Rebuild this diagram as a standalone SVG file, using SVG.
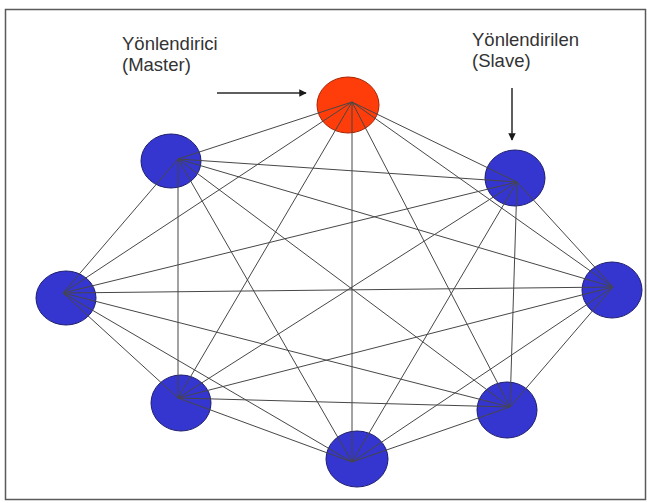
<svg xmlns="http://www.w3.org/2000/svg" width="647" height="503" viewBox="0 0 647 503">
  <style>
    .frame { fill: #ffffff; stroke: #5a5a5a; stroke-width: 1.5; }
    .slave { fill: #3535cf; stroke: #1e1e70; stroke-width: 1; }
    .master { fill: #ff3d0a; stroke: #a82300; stroke-width: 1; }
    .link { stroke: #474747; stroke-width: 1; fill: none; }
    .label { font-family: "Liberation Sans", Arial, sans-serif; font-size: 18.5px; fill: #333333; }
    .pointer { stroke: #2a2a2a; stroke-width: 1.5; fill: none; marker-end: url(#tip); }
  </style>
  <defs>
    <marker id="tip" viewBox="0 0 10 10" refX="9" refY="5" markerWidth="5" markerHeight="5" orient="auto" markerUnits="strokeWidth">
      <path d="M0,0 L10,5 L0,10 z" fill="#1a1a1a"/>
    </marker>
  </defs>

  <rect class="frame" x="5.5" y="9.5" width="640" height="490"/>

  <!-- nodes -->
  <g id="node-master"><ellipse class="master" cx="348" cy="105" rx="31" ry="28"/></g>
  <g id="node-top-left"><ellipse class="slave" cx="171" cy="161" rx="30" ry="27"/></g>
  <g id="node-top-right"><ellipse class="slave" cx="515" cy="178" rx="30" ry="28"/></g>
  <g id="node-left"><ellipse class="slave" cx="66" cy="298" rx="30" ry="27"/></g>
  <g id="node-right"><ellipse class="slave" cx="612" cy="290" rx="30" ry="28"/></g>
  <g id="node-bottom-left"><ellipse class="slave" cx="181" cy="403" rx="30" ry="28"/></g>
  <g id="node-bottom"><ellipse class="slave" cx="357" cy="459" rx="31" ry="28"/></g>
  <g id="node-bottom-right"><ellipse class="slave" cx="507" cy="410" rx="30" ry="28"/></g>

  <!-- full mesh: every hub joined to every other hub -->
  <g id="connectors" class="link">
    <!-- master -->
    <line x1="352" y1="102" x2="178" y2="159"/>
    <line x1="352" y1="102" x2="517" y2="182"/>
    <line x1="352" y1="102" x2="63" y2="293"/>
    <line x1="352" y1="102" x2="613" y2="287"/>
    <line x1="352" y1="102" x2="178" y2="398"/>
    <line x1="352" y1="102" x2="352" y2="462"/>
    <line x1="352" y1="102" x2="510" y2="407"/>
    <!-- top left -->
    <line x1="178" y1="159" x2="517" y2="182"/>
    <line x1="178" y1="159" x2="63" y2="293"/>
    <line x1="178" y1="159" x2="613" y2="287"/>
    <line x1="178" y1="159" x2="178" y2="398"/>
    <line x1="178" y1="159" x2="352" y2="462"/>
    <line x1="178" y1="159" x2="510" y2="407"/>
    <!-- top right -->
    <line x1="517" y1="182" x2="63" y2="293"/>
    <line x1="517" y1="182" x2="613" y2="287"/>
    <line x1="517" y1="182" x2="178" y2="398"/>
    <line x1="517" y1="182" x2="352" y2="462"/>
    <line x1="517" y1="182" x2="510" y2="407"/>
    <!-- left -->
    <line x1="63" y1="293" x2="613" y2="287"/>
    <line x1="63" y1="293" x2="178" y2="398"/>
    <line x1="63" y1="293" x2="352" y2="462"/>
    <line x1="63" y1="293" x2="510" y2="407"/>
    <!-- right -->
    <line x1="613" y1="287" x2="178" y2="398"/>
    <line x1="613" y1="287" x2="352" y2="462"/>
    <line x1="613" y1="287" x2="510" y2="407"/>
    <!-- bottom left -->
    <line x1="178" y1="398" x2="352" y2="462"/>
    <line x1="178" y1="398" x2="510" y2="407"/>
    <!-- bottom -->
    <line x1="352" y1="462" x2="510" y2="407"/>
  </g>

  <!-- labels and pointers -->
  <g id="label-master">
    <text class="label" x="122" y="50">Yönlendirici</text>
    <text class="label" x="122" y="71">(Master)</text>
    <line class="pointer" x1="217" y1="93" x2="306" y2="93"/>
  </g>
  <g id="label-slave">
    <text class="label" x="472" y="46">Yönlendirilen</text>
    <text class="label" x="472" y="67">(Slave)</text>
    <line class="pointer" x1="512" y1="88" x2="512" y2="140"/>
  </g>
</svg>
